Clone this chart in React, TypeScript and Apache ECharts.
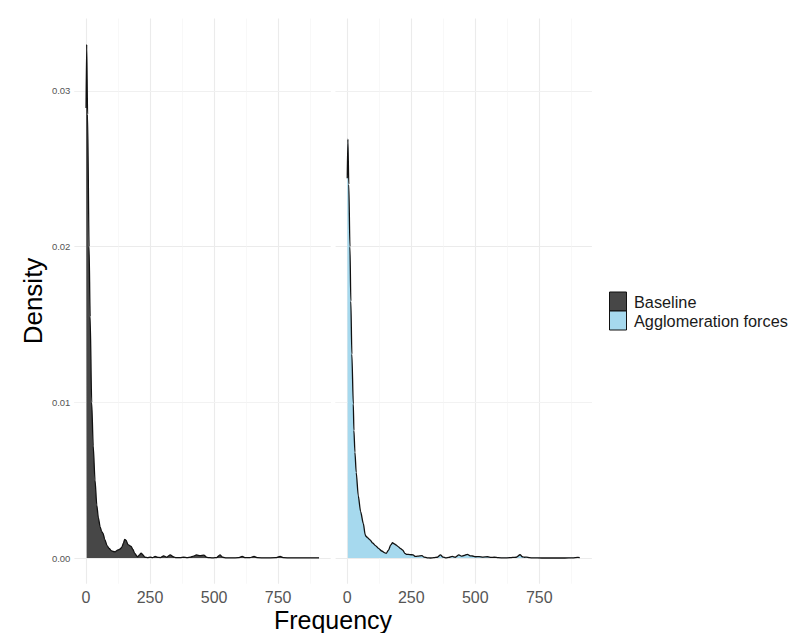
import React, { useEffect, useRef } from "react";
import * as echarts from "echarts";

// Kernel density estimates of frequency, one per scenario
const baselineFreq = [
  0, 2.5, 6, 11.8, 16, 22, 28, 35, 42, 48, 55, 61, 66, 73, 82, 90, 98, 106, 114, 125, 133, 140, 146,
  151, 156, 164, 170, 176, 183, 190, 201, 209, 215, 222, 230, 240, 251, 260, 270, 280, 290, 303, 315,
  329, 340, 352, 368, 381, 395, 408, 420, 431, 446, 460, 472, 484, 498, 510, 523, 534, 548, 570, 595,
  610, 622, 640, 656, 670, 700, 740, 758, 772, 800, 850, 910,
];
const baselineDensity = [
  0.0289, 0.033, 0.0285, 0.02, 0.0155, 0.01, 0.0072, 0.005, 0.0034, 0.0026, 0.002, 0.0017, 0.0016,
  0.0012, 0.0008, 0.00062, 0.00048, 0.00042, 0.0004, 0.00052, 0.00058, 0.0007, 0.00095, 0.0012,
  0.00115, 0.00086, 0.0008, 0.00074, 0.00055, 0.0003, 0.00008, 0.0002, 0.00032, 0.0002, 0.00005,
  0.00003, 0.00006, 0.00002, 0.0001, 0.00004, 0.00003, 0.00014, 0.00005, 0.0002, 0.00008, 0.00002,
  0.00002, 0.00005, 0.00002, 0.00006, 0.00012, 0.0002, 0.00015, 0.00018, 0.00004, 0.00002, 0.00001,
  0.00003, 0.0002, 0.00005, 0.00001, 0.00001, 0.00002, 0.0001, 0.00002, 0.00003, 0.0001, 0.00002,
  0.00001, 0.00002, 0.0001, 0.00002, 0.00001, 0.00001, 0.00001,
];

const agglomFreq = [
  0, 2.5, 6, 10.5, 14, 18, 23.6, 26, 30, 35, 43, 52, 63, 70, 73, 80, 89, 100, 110, 122, 135, 145, 152,
  161, 170, 177, 185, 190, 200, 207, 217, 225, 231, 245, 257, 266, 275, 292, 300, 312, 325, 338, 352,
  364, 374, 384, 397, 410, 422, 436, 446, 456, 469, 480, 489, 500, 515, 530, 548, 562, 574, 590, 613,
  635, 646, 660, 675, 684, 692, 700, 712, 725, 760, 800, 850, 880, 901, 908,
];
const agglomDensity = [
  0.0244, 0.0269, 0.024, 0.02, 0.0165, 0.0131, 0.0099, 0.0082, 0.0068, 0.0055, 0.004, 0.003, 0.0022,
  0.0015, 0.0014, 0.0013, 0.00116, 0.00095, 0.0008, 0.00062, 0.00045, 0.00035, 0.0003, 0.0005,
  0.00085, 0.00098, 0.0009, 0.00084, 0.00072, 0.00062, 0.0005, 0.0003, 0.00024, 0.00022, 0.0002,
  0.0001, 0.00012, 0.00015, 0.00006, 0.00001, 0, 0.00002, 0.00005, 0.0002, 0.00006, 0.00001, 0.00004,
  0.0001, 0.00005, 0.0002, 0.00012, 0.00016, 0.00024, 0.00014, 0.00013, 0.00008, 0.00009, 0.00006,
  0.00008, 0.00004, 0.00005, 0.00002, 0.00001, 0.00002, 0.00004, 0.00005, 0.00021, 0.00008, 0.00005,
  0.00006, 0.00002, 0.00001, 0, 0, 0, 0.00001, 0.00004, 0.00003,
];

const xMajorTicks = [0, 250, 500, 750];
const xMinorTicks = [125, 375, 625, 875];
const yMajorTicks = [0, 0.01, 0.02, 0.03];
const yMinorTicks = [0.005, 0.015, 0.025];

const seriesNames = ["Baseline", "Agglomeration forces"];
const fillColors = ["#474747", "#a6d9ee"];

const FONT = "'Liberation Sans', Arial, Helvetica, sans-serif";

function zip(xs: number[], ys: number[]) {
  return xs.map((x, i) => [x, ys[i]]);
}

export default function App() {
  const ref = useRef<HTMLDivElement>(null);

  useEffect(() => {
    if (!ref.current) return;
    const chart = echarts.init(ref.current, null, { renderer: "svg" });

    // shared (fixed) facet scales with a 5% expansion on each side
    const allX = baselineFreq.concat(agglomFreq);
    const allY = baselineDensity.concat(agglomDensity);
    const xLo = Math.min(...allX);
    const xHi = Math.max(...allX);
    const yLo = Math.min(0, ...allY);
    const yHi = Math.max(...allY);
    const xPad = (xHi - xLo) * 0.05;
    const yPad = (yHi - yLo) * 0.05;

    const panelTop = 18.6;
    const panelHeight = 565.1;
    const panelWidth = 256.3;

    const gridLines = {
      silent: true,
      symbol: "none",
      z: 1,
      label: { show: false },
      emphasis: { disabled: true },
      lineStyle: { type: "solid", color: "#ebebeb", width: 1.1 },
      data: [
        ...xMajorTicks.map((v) => ({ xAxis: v })),
        ...yMajorTicks.map((v) => ({ yAxis: v })),
        ...xMinorTicks.map((v) => ({ xAxis: v, lineStyle: { color: "#f3f3f3", width: 0.6 } })),
        ...yMinorTicks.map((v) => ({ yAxis: v, lineStyle: { color: "#f3f3f3", width: 0.6 } })),
      ],
    };

    const xAxisBase = (gridIndex: number) => ({
      type: "value",
      gridIndex,
      min: xLo - xPad,
      max: xHi + xPad,
      axisLine: { show: false },
      axisTick: { show: false },
      splitLine: { show: false },
      axisLabel: {
        customValues: xMajorTicks,
        color: "#555555",
        fontSize: 16,
        lineHeight: 16,
        fontFamily: FONT,
        margin: 6,
      },
    });

    const yAxisBase = (gridIndex: number, showLabels: boolean) => ({
      type: "value",
      gridIndex,
      min: yLo - yPad,
      max: yHi + yPad,
      axisLine: { show: false },
      axisTick: { show: false },
      splitLine: { show: false },
      axisLabel: {
        show: showLabels,
        customValues: yMajorTicks,
        formatter: (v: number) => v.toFixed(2),
        color: "#555555",
        fontSize: 9.5,
        fontFamily: FONT,
        margin: 4,
      },
    });

    const densitySeries = (idx: number, data: number[][]) => ({
      type: "line",
      name: seriesNames[idx],
      xAxisIndex: idx,
      yAxisIndex: idx,
      data,
      showSymbol: false,
      symbol: "none",
      smooth: 0.25,
      smoothMonotone: "x",
      z: 2,
      lineStyle: { color: "#111111", width: 1.3 },
      areaStyle: { color: fillColors[idx], opacity: 1, origin: 0 },
      markLine: gridLines,
    });

    chart.setOption({
      animation: false,
      backgroundColor: "#ffffff",
      grid: [
        { left: 74.4, top: panelTop, width: panelWidth, height: panelHeight },
        { left: 335.6, top: panelTop, width: panelWidth, height: panelHeight },
      ],
      xAxis: [xAxisBase(0), xAxisBase(1)],
      yAxis: [yAxisBase(0, true), yAxisBase(1, false)],
      series: [
        densitySeries(0, zip(baselineFreq, baselineDensity)),
        densitySeries(1, zip(agglomFreq, agglomDensity)),
      ],
      graphic: [
        {
          type: "text",
          x: 333,
          y: 619.5,
          style: {
            text: "Frequency",
            fontSize: 25,
            lineHeight: 25,
            fontFamily: FONT,
            fill: "#000000",
            align: "center",
            verticalAlign: "middle",
          },
        },
        {
          type: "text",
          x: 33,
          y: 301,
          rotation: Math.PI / 2,
          style: {
            text: "Density",
            fontSize: 26,
            fontFamily: FONT,
            fill: "#000000",
            align: "center",
            verticalAlign: "middle",
          },
        },
        ...seriesNames.flatMap((name, i) => [
          {
            type: "rect",
            shape: { x: 609.5, y: 292 + i * 19, width: 17, height: 19 },
            style: { fill: fillColors[i], stroke: "#111111", lineWidth: 1 },
          },
          {
            type: "text",
            x: 634,
            y: 301.5 + i * 19,
            style: {
              text: name,
              fontSize: 16.3,
              fontFamily: FONT,
              fill: "#1a1a1a",
              align: "left",
              verticalAlign: "middle",
            },
          },
        ]),
      ],
    });

    return () => chart.dispose();
  }, []);

  return (
    <div
      ref={ref}
      style={{ position: "absolute", left: 0, top: 0, width: 790, height: 633 }}
    />
  );
}
